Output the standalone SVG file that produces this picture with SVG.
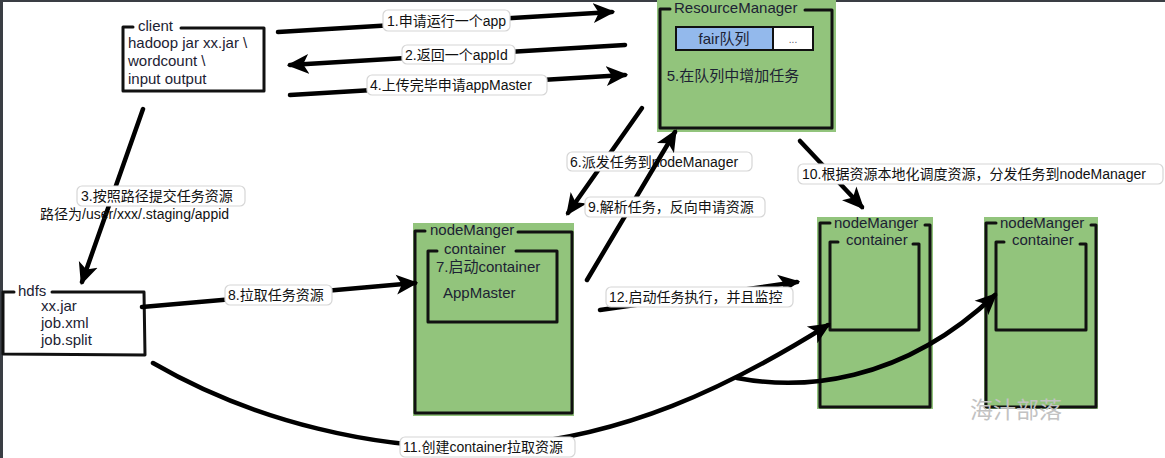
<svg xmlns="http://www.w3.org/2000/svg" width="1165" height="458" viewBox="0 0 1165 458">
<defs>
<style>
.bg{fill:#ffffff}
.frame{fill:#3a3e44}
.green{fill:#92c47c}
.bd{fill:none;stroke:#111;stroke-width:3;stroke-linejoin:round;stroke-linecap:round}
.t{font-family:"Liberation Sans","Noto Sans CJK SC",sans-serif;font-size:15px;fill:#1c2233}
.tt{font-family:"Liberation Sans","Noto Sans CJK SC",sans-serif;font-size:15px;fill:#1c2233}
.ln{fill:none;stroke:#000;stroke-width:4.5;stroke-linecap:round}
.lnA{fill:none;stroke:#000;stroke-width:4.5;stroke-linecap:round;marker-end:url(#ah)}
.lb{fill:#fff;stroke:#d6d6d6;stroke-width:1.2}
.lt{font-family:"Liberation Sans","Noto Sans CJK SC",sans-serif;font-size:14px;fill:#111}
.wm{font-family:"Liberation Serif","Noto Sans CJK SC",serif;font-size:23px;fill:#c2c2c2}
</style>
<marker id="ah" viewBox="0 0 20 20" refX="17" refY="10" markerWidth="22" markerHeight="22" markerUnits="userSpaceOnUse" orient="auto">
<path d="M0,1 L20,10 L0,19 L5,10 Z" fill="#000"/>
</marker>
</defs>
<rect class="bg" x="0" y="0" width="1165" height="458"/>
<rect class="frame" x="0" y="0" width="1165" height="2"/>
<rect class="frame" x="0" y="0" width="3" height="458"/>

<g id="client">
<path class="bd" d="M133,27 L123,27 L123,91 L264,91 L264,28 L181,28"/>
<text class="tt" x="138" y="31">client</text>
<text class="t" x="128" y="48">hadoop jar xx.jar \</text>
<text class="t" x="128" y="66">wordcount \</text>
<text class="t" x="128" y="84">input output</text>
</g>

<g id="resourcemanager">
<rect class="green" x="657" y="0" width="179" height="132"/>
<path class="bd" d="M670,9 L660,9 L660,128 L832,128 L832,10 L805,10"/>
<text class="tt" x="674" y="13">ResourceManager</text>
<rect x="676" y="27" width="97" height="23" fill="#93b9ec" stroke="#111" stroke-width="2"/>
<rect x="773" y="27" width="40" height="23" fill="#fff" stroke="#111" stroke-width="2"/>
<text class="t" x="724" y="44" text-anchor="middle">fair队列</text>
<text x="793" y="43" text-anchor="middle" font-family="Liberation Sans,sans-serif" font-size="10" fill="#556">...</text>
<text class="t" x="733" y="81" text-anchor="middle">5.在队列中增加任务</text>
</g>

<g id="hdfs">
<path class="bd" d="M14,292 L3,292 L3,354 L145,355 L144,292 L52,292"/>
<text class="tt" x="18" y="296">hdfs</text>
<text class="t" x="41" y="311">xx.jar</text>
<text class="t" x="41" y="328">job.xml</text>
<text class="t" x="41" y="345">job.split</text>
</g>

<g id="nodemanager1">
<rect class="green" x="413" y="223" width="161" height="193"/>
<path class="bd" d="M425,231 L415,231 L415,413 L572,413 L572,232 L518,232"/>
<text class="tt" x="430" y="235">nodeManger</text>
<path class="bd" d="M437,251 L428,251 L428,322 L557,322 L557,251 L516,251"/>
<text class="tt" x="444" y="254">container</text>
<text class="t" x="436" y="272">7.启动container</text>
<text class="t" x="443" y="298">AppMaster</text>
</g>

<g id="nodemanager2">
<rect class="green" x="817" y="217" width="116" height="192"/>
<path class="bd" d="M830,223 L820,223 L820,407 L930,407 L930,225 L925,225"/>
<text class="tt" x="834" y="228">nodeManger</text>
<path class="bd" d="M838,242 L830,242 L830,330 L919,330 L919,244 L913,244"/>
<text class="tt" x="846" y="245">container</text>
</g>

<g id="nodemanager3">
<rect class="green" x="984" y="217" width="114" height="192"/>
<path class="bd" d="M996,223 L986,223 L986,407 L1096,407 L1096,225 L1091,225"/>
<text class="tt" x="1000" y="228">nodeManger</text>
<path class="bd" d="M1004,242 L996,242 L996,330 L1086,330 L1086,244 L1080,244"/>
<text class="tt" x="1012" y="245">container</text>
</g>

<g id="connectors">
<path class="lnA" d="M278,32 L612,12"/>
<path class="lnA" d="M625,45 L290,65"/>
<path class="lnA" d="M290,95 L625,75"/>
<path class="lnA" d="M143,109 L82,282"/>
<path class="lnA" d="M142,307 L415,283"/>
<path class="lnA" d="M642,108 L568,213"/>
<path class="lnA" d="M800,141 L862,207"/>
<path class="lnA" d="M600,310 L797,282"/>
<path class="lnA" d="M153,363 C260,425 380,448 470,447 C620,445 740,380 828,325"/>
<path class="lnA" d="M737,378 C800,390 900,385 995,295"/>

<rect class="lb" x="383" y="10" width="127" height="21" rx="5"/>
<text class="lt" x="387" y="26">1.申请运行一个app</text>
<rect class="lb" x="402" y="45" width="113" height="19" rx="5"/>
<text class="lt" x="405" y="60">2.返回一个appId</text>
<rect class="lb" x="367" y="75" width="180" height="20" rx="5"/>
<text class="lt" x="370" y="90">4.上传完毕申请appMaster</text>
<rect class="lb" x="77" y="186" width="168" height="20" rx="5"/>
<text class="lt" x="81" y="201">3.按照路径提交任务资源</text>
<text class="lt" x="40" y="219">路径为/user/xxx/.staging/appid</text>
<rect class="lb" x="225" y="285" width="107" height="20" rx="5"/>
<text class="lt" x="228" y="300">8.拉取任务资源</text>
<rect class="lb" x="567" y="152" width="185" height="19" rx="5"/>
<text class="lt" x="570" y="167">6.派发任务到nodeManager</text>
<path class="lnA" d="M587,280 L675,132"/>
<rect class="lb" x="585" y="197" width="180" height="20" rx="5"/>
<text class="lt" x="588" y="212">9.解析任务，反向申请资源</text>
<rect class="lb" x="798" y="164" width="365" height="20" rx="5"/>
<text class="lt" x="802" y="179">10.根据资源本地化调度资源，分发任务到nodeManager</text>
<rect class="lb" x="606" y="287" width="187" height="20" rx="5"/>
<text class="lt" x="609" y="302">12.启动任务执行，并且监控</text>
<rect class="lb" x="400" y="437" width="175" height="20" rx="5"/>
<text class="lt" x="403" y="452">11.创建container拉取资源</text>
</g>

<text class="wm" x="970" y="418">海汁部落</text>
</svg>
